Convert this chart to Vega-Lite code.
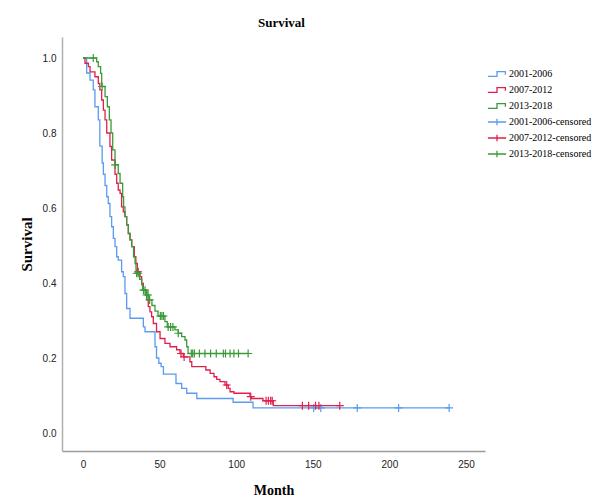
{
  "$schema": "https://vega.github.io/schema/vega-lite/v6.json",
  "autosize": "none",
  "width": 423,
  "height": 414,
  "padding": {"left": 62, "top": 37, "right": 124, "bottom": 50},
  "background": "white",
  "config": {"view": {"stroke": null}},
  "title": {"text": "Survival", "font": "Liberation Serif", "fontSize": 13, "fontWeight": "bold", "color": "#000", "offset": 7, "anchor": "middle", "dx": 8},
  "datasets": {
    "curves": [
      {"s": "2001-2006", "m": 0, "v": 1.0}, {"s": "2001-2006", "m": 2.4, "v": 0.96}, {"s": "2001-2006", "m": 4.6, "v": 0.941}, {"s": "2001-2006", "m": 6.7, "v": 0.915}, {"s": "2001-2006", "m": 7.8, "v": 0.87}, {"s": "2001-2006", "m": 10, "v": 0.835}, {"s": "2001-2006", "m": 11, "v": 0.765}, {"s": "2001-2006", "m": 12.5, "v": 0.72}, {"s": "2001-2006", "m": 13.3, "v": 0.69}, {"s": "2001-2006", "m": 14.4, "v": 0.66}, {"s": "2001-2006", "m": 15.5, "v": 0.63}, {"s": "2001-2006", "m": 16.5, "v": 0.612}, {"s": "2001-2006", "m": 17.6, "v": 0.577}, {"s": "2001-2006", "m": 18.7, "v": 0.55}, {"s": "2001-2006", "m": 19.8, "v": 0.519}, {"s": "2001-2006", "m": 20.9, "v": 0.497}, {"s": "2001-2006", "m": 22, "v": 0.47}, {"s": "2001-2006", "m": 23, "v": 0.461}, {"s": "2001-2006", "m": 25.2, "v": 0.43}, {"s": "2001-2006", "m": 26.3, "v": 0.417}, {"s": "2001-2006", "m": 27.4, "v": 0.372}, {"s": "2001-2006", "m": 28.5, "v": 0.332}, {"s": "2001-2006", "m": 30.7, "v": 0.306}, {"s": "2001-2006", "m": 39.4, "v": 0.283}, {"s": "2001-2006", "m": 40.5, "v": 0.27}, {"s": "2001-2006", "m": 47, "v": 0.23}, {"s": "2001-2006", "m": 48, "v": 0.2}, {"s": "2001-2006", "m": 49.5, "v": 0.186}, {"s": "2001-2006", "m": 51, "v": 0.177}, {"s": "2001-2006", "m": 52.5, "v": 0.157}, {"s": "2001-2006", "m": 60.7, "v": 0.132}, {"s": "2001-2006", "m": 64.4, "v": 0.119}, {"s": "2001-2006", "m": 67.7, "v": 0.106}, {"s": "2001-2006", "m": 74.3, "v": 0.092}, {"s": "2001-2006", "m": 98, "v": 0.082}, {"s": "2001-2006", "m": 111, "v": 0.067}, {"s": "2001-2006", "m": 239, "v": 0.067},
      {"s": "2007-2012", "m": 0, "v": 1.0}, {"s": "2007-2012", "m": 1.3, "v": 0.986}, {"s": "2007-2012", "m": 3.5, "v": 0.977}, {"s": "2007-2012", "m": 4.6, "v": 0.963}, {"s": "2007-2012", "m": 7.8, "v": 0.95}, {"s": "2007-2012", "m": 10, "v": 0.932}, {"s": "2007-2012", "m": 11, "v": 0.915}, {"s": "2007-2012", "m": 12.2, "v": 0.888}, {"s": "2007-2012", "m": 13.3, "v": 0.861}, {"s": "2007-2012", "m": 14.4, "v": 0.835}, {"s": "2007-2012", "m": 15.5, "v": 0.8}, {"s": "2007-2012", "m": 17.6, "v": 0.764}, {"s": "2007-2012", "m": 18.7, "v": 0.728}, {"s": "2007-2012", "m": 20.9, "v": 0.69}, {"s": "2007-2012", "m": 22, "v": 0.666}, {"s": "2007-2012", "m": 23, "v": 0.648}, {"s": "2007-2012", "m": 24.2, "v": 0.639}, {"s": "2007-2012", "m": 25.2, "v": 0.603}, {"s": "2007-2012", "m": 26.3, "v": 0.59}, {"s": "2007-2012", "m": 27.4, "v": 0.577}, {"s": "2007-2012", "m": 28.5, "v": 0.555}, {"s": "2007-2012", "m": 29.6, "v": 0.532}, {"s": "2007-2012", "m": 30.7, "v": 0.515}, {"s": "2007-2012", "m": 31.8, "v": 0.497}, {"s": "2007-2012", "m": 33.5, "v": 0.47}, {"s": "2007-2012", "m": 34.5, "v": 0.452}, {"s": "2007-2012", "m": 35.5, "v": 0.43}, {"s": "2007-2012", "m": 37.2, "v": 0.417}, {"s": "2007-2012", "m": 38.3, "v": 0.399}, {"s": "2007-2012", "m": 39.4, "v": 0.381}, {"s": "2007-2012", "m": 41.6, "v": 0.355}, {"s": "2007-2012", "m": 42.6, "v": 0.337}, {"s": "2007-2012", "m": 43.7, "v": 0.323}, {"s": "2007-2012", "m": 44.8, "v": 0.31}, {"s": "2007-2012", "m": 45.9, "v": 0.292}, {"s": "2007-2012", "m": 48, "v": 0.27}, {"s": "2007-2012", "m": 50.3, "v": 0.252}, {"s": "2007-2012", "m": 53.5, "v": 0.239}, {"s": "2007-2012", "m": 56.8, "v": 0.23}, {"s": "2007-2012", "m": 61.1, "v": 0.222}, {"s": "2007-2012", "m": 63.3, "v": 0.212}, {"s": "2007-2012", "m": 65.5, "v": 0.203}, {"s": "2007-2012", "m": 69.8, "v": 0.19}, {"s": "2007-2012", "m": 71, "v": 0.177}, {"s": "2007-2012", "m": 80.2, "v": 0.168}, {"s": "2007-2012", "m": 83, "v": 0.159}, {"s": "2007-2012", "m": 85.5, "v": 0.15}, {"s": "2007-2012", "m": 87.3, "v": 0.143}, {"s": "2007-2012", "m": 89.4, "v": 0.137}, {"s": "2007-2012", "m": 92.7, "v": 0.128}, {"s": "2007-2012", "m": 94.8, "v": 0.119}, {"s": "2007-2012", "m": 96, "v": 0.11}, {"s": "2007-2012", "m": 98.5, "v": 0.106}, {"s": "2007-2012", "m": 109, "v": 0.097}, {"s": "2007-2012", "m": 110, "v": 0.092}, {"s": "2007-2012", "m": 117.5, "v": 0.086}, {"s": "2007-2012", "m": 124.2, "v": 0.073}, {"s": "2007-2012", "m": 167.8, "v": 0.073},
      {"s": "2013-2018", "m": 0, "v": 1.0}, {"s": "2013-2018", "m": 8.9, "v": 0.99}, {"s": "2013-2018", "m": 10, "v": 0.977}, {"s": "2013-2018", "m": 11.5, "v": 0.959}, {"s": "2013-2018", "m": 12.2, "v": 0.924}, {"s": "2013-2018", "m": 14.4, "v": 0.897}, {"s": "2013-2018", "m": 15.9, "v": 0.87}, {"s": "2013-2018", "m": 17.2, "v": 0.835}, {"s": "2013-2018", "m": 18.3, "v": 0.8}, {"s": "2013-2018", "m": 19.4, "v": 0.755}, {"s": "2013-2018", "m": 20.9, "v": 0.715}, {"s": "2013-2018", "m": 23, "v": 0.692}, {"s": "2013-2018", "m": 24.2, "v": 0.666}, {"s": "2013-2018", "m": 25.9, "v": 0.63}, {"s": "2013-2018", "m": 26.5, "v": 0.603}, {"s": "2013-2018", "m": 27.4, "v": 0.577}, {"s": "2013-2018", "m": 28.5, "v": 0.555}, {"s": "2013-2018", "m": 29.6, "v": 0.532}, {"s": "2013-2018", "m": 30.7, "v": 0.515}, {"s": "2013-2018", "m": 31.8, "v": 0.497}, {"s": "2013-2018", "m": 33, "v": 0.47}, {"s": "2013-2018", "m": 34, "v": 0.452}, {"s": "2013-2018", "m": 34.6, "v": 0.426}, {"s": "2013-2018", "m": 37, "v": 0.41}, {"s": "2013-2018", "m": 38.3, "v": 0.395}, {"s": "2013-2018", "m": 39, "v": 0.381}, {"s": "2013-2018", "m": 41, "v": 0.368}, {"s": "2013-2018", "m": 43, "v": 0.355}, {"s": "2013-2018", "m": 45, "v": 0.34}, {"s": "2013-2018", "m": 47, "v": 0.325}, {"s": "2013-2018", "m": 49, "v": 0.312}, {"s": "2013-2018", "m": 53.5, "v": 0.297}, {"s": "2013-2018", "m": 55, "v": 0.283}, {"s": "2013-2018", "m": 60, "v": 0.275}, {"s": "2013-2018", "m": 62.2, "v": 0.266}, {"s": "2013-2018", "m": 64.4, "v": 0.257}, {"s": "2013-2018", "m": 66.6, "v": 0.248}, {"s": "2013-2018", "m": 67.7, "v": 0.23}, {"s": "2013-2018", "m": 68.6, "v": 0.212}, {"s": "2013-2018", "m": 108, "v": 0.212}
    ],
    "censored": [
      {"s": "2001-2006-censored", "m": 150.6, "v": 0.067}, {"s": "2001-2006-censored", "m": 155.2, "v": 0.067}, {"s": "2001-2006-censored", "m": 179, "v": 0.067}, {"s": "2001-2006-censored", "m": 206, "v": 0.067}, {"s": "2001-2006-censored", "m": 239, "v": 0.067},
      {"s": "2007-2012-censored", "m": 36, "v": 0.43}, {"s": "2007-2012-censored", "m": 64, "v": 0.212}, {"s": "2007-2012-censored", "m": 66, "v": 0.203}, {"s": "2007-2012-censored", "m": 93.8, "v": 0.128}, {"s": "2007-2012-censored", "m": 109.5, "v": 0.097}, {"s": "2007-2012-censored", "m": 119.5, "v": 0.086}, {"s": "2007-2012-censored", "m": 121, "v": 0.086}, {"s": "2007-2012-censored", "m": 122.5, "v": 0.086}, {"s": "2007-2012-censored", "m": 123.5, "v": 0.086}, {"s": "2007-2012-censored", "m": 143.2, "v": 0.073}, {"s": "2007-2012-censored", "m": 147.3, "v": 0.073}, {"s": "2007-2012-censored", "m": 151.8, "v": 0.073}, {"s": "2007-2012-censored", "m": 154, "v": 0.073}, {"s": "2007-2012-censored", "m": 167.6, "v": 0.073},
      {"s": "2013-2018-censored", "m": 6.7, "v": 1.0}, {"s": "2013-2018-censored", "m": 12.5, "v": 0.924}, {"s": "2013-2018-censored", "m": 21, "v": 0.715}, {"s": "2013-2018-censored", "m": 35, "v": 0.426}, {"s": "2013-2018-censored", "m": 36, "v": 0.426}, {"s": "2013-2018-censored", "m": 39.5, "v": 0.381}, {"s": "2013-2018-censored", "m": 40.5, "v": 0.381}, {"s": "2013-2018-censored", "m": 41.5, "v": 0.368}, {"s": "2013-2018-censored", "m": 42.5, "v": 0.368}, {"s": "2013-2018-censored", "m": 43.5, "v": 0.355}, {"s": "2013-2018-censored", "m": 50.5, "v": 0.312}, {"s": "2013-2018-censored", "m": 51.5, "v": 0.312}, {"s": "2013-2018-censored", "m": 52.5, "v": 0.312}, {"s": "2013-2018-censored", "m": 55.6, "v": 0.283}, {"s": "2013-2018-censored", "m": 57.2, "v": 0.283}, {"s": "2013-2018-censored", "m": 58.7, "v": 0.283}, {"s": "2013-2018-censored", "m": 62.2, "v": 0.266}, {"s": "2013-2018-censored", "m": 70.7, "v": 0.212}, {"s": "2013-2018-censored", "m": 71.6, "v": 0.212}, {"s": "2013-2018-censored", "m": 72.7, "v": 0.212}, {"s": "2013-2018-censored", "m": 76, "v": 0.212}, {"s": "2013-2018-censored", "m": 79.6, "v": 0.212}, {"s": "2013-2018-censored", "m": 83.3, "v": 0.212}, {"s": "2013-2018-censored", "m": 87, "v": 0.212}, {"s": "2013-2018-censored", "m": 91.6, "v": 0.212}, {"s": "2013-2018-censored", "m": 93, "v": 0.212}, {"s": "2013-2018-censored", "m": 96, "v": 0.212}, {"s": "2013-2018-censored", "m": 98.5, "v": 0.212}, {"s": "2013-2018-censored", "m": 101.5, "v": 0.212}, {"s": "2013-2018-censored", "m": 107.8, "v": 0.212}
    ]
  },
  "encoding": {
    "x": {"field": "m", "type": "quantitative", "scale": {"domain": [-13.7, 262.4], "nice": false, "zero": false},
      "axis": {"values": [0, 50, 100, 150, 200, 250], "ticks": false, "grid": false, "domainColor": "#9a9a9a", "domainWidth": 1.5, "labelPadding": 8, "labelFont": "Liberation Sans Narrow, Liberation Sans", "labelFontSize": 10, "labelColor": "#222", "title": "Month", "titleFont": "Liberation Serif", "titleFontSize": 14, "titleFontWeight": "bold", "titleColor": "#000", "titlePadding": 14}},
    "y": {"field": "v", "type": "quantitative", "scale": {"domain": [-0.048, 1.056], "nice": false, "zero": false},
      "axis": {"values": [0, 0.2, 0.4, 0.6, 0.8, 1.0], "format": ".1f", "ticks": false, "grid": false, "domainColor": "#b0b0b0", "domainWidth": 1.5, "labelPadding": 6, "labelFont": "Liberation Sans Narrow, Liberation Sans", "labelFontSize": 10, "labelColor": "#222", "title": "Survival", "titleFont": "Liberation Serif", "titleFontSize": 15, "titleFontWeight": "bold", "titleColor": "#000", "titlePadding": 8}},
    "color": {"field": "s", "type": "nominal",
      "scale": {"domain": ["2001-2006", "2007-2012", "2013-2018", "2001-2006-censored", "2007-2012-censored", "2013-2018-censored"], "range": ["#5b9bef", "#e0204c", "#3a9a38", "#5b9bef", "#e0204c", "#3a9a38"]},
      "legend": {"orient": "none", "legendX": 427, "legendY": 29, "title": null, "padding": 0, "symbolSize": 196, "symbolStrokeWidth": 1.3, "symbolFillColor": "transparent", "labelFont": "Liberation Serif", "labelFontSize": 10, "labelColor": "#000", "labelOffset": 4, "rowPadding": 2,
        "encode": {"symbols": {"update": {"shape": {"signal": "indexof(datum.value,'censored')>=0 ? 'M-1.3,0H1.3M0,-0.45V0.45' : 'M-1.3,0.35H0V-0.35H1.2V0.1'"}, "fill": {"value": "transparent"}, "opacity": {"value": 1}}}}}}
  },
  "layer": [
    {"data": {"name": "curves"}, "mark": {"type": "line", "interpolate": "step-after", "strokeWidth": 1.3}},
    {"data": {"name": "censored"}, "mark": {"type": "point", "shape": "M-1,0H1M0,-1V1", "filled": false, "size": 64, "strokeWidth": 1.2, "opacity": 1}}
  ]
}
